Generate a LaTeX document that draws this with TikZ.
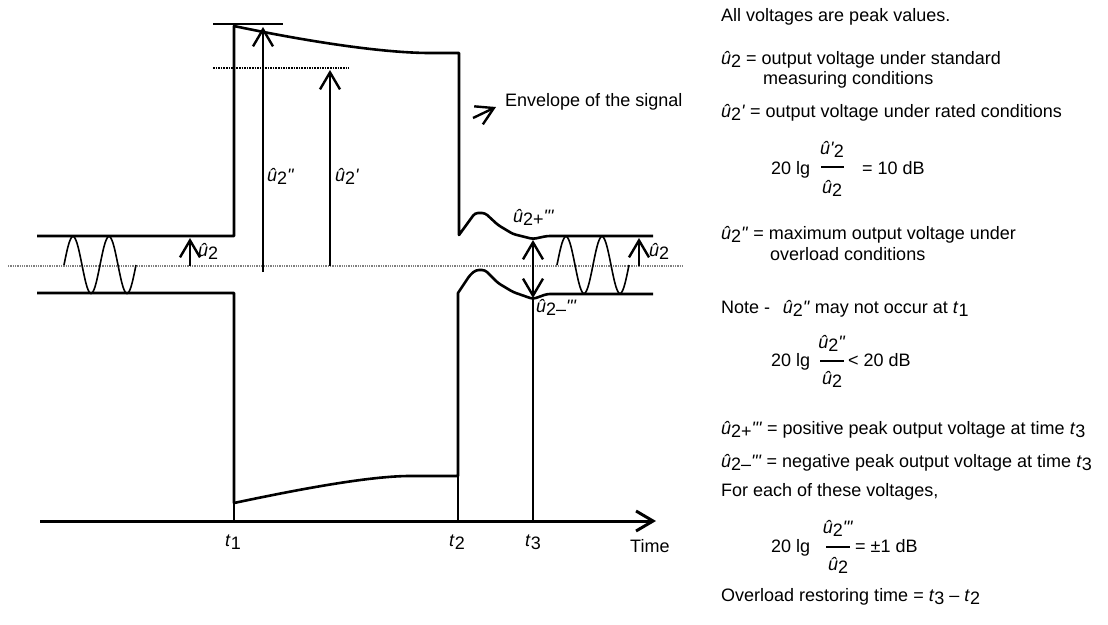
\documentclass[tikz,border=0pt]{standalone}
\usepackage{fontspec}
\newfontfamily\arialfont{Liberation Sans}
\usetikzlibrary{arrows.meta,positioning,calc}

\newcommand{\uhat}[2]{\textit{û}\raisebox{-0.3ex}{#1}\textit{#2}}
\newcommand{\tsub}[1]{\textit{t}\raisebox{-0.3ex}{#1}}

\begin{document}
\begin{tikzpicture}[x=1pt,y=-1pt,
  >={Straight Barb[length=17pt,width=20pt]},
  env/.style={line width=2.6pt,line join=round},
  wave/.style={line width=1.6pt},
  tick/.style={line width=1.6pt},
  arr/.style={line width=2.4pt,->},
  lbl/.style={font=\arialfont\fontsize{18}{21}\selectfont,inner sep=0pt,text height=13pt,text depth=4pt,anchor=west}]
\useasboundingbox (0,0) rectangle (1108,624);

% zero line and levels
\draw[gray,line width=1.3pt,densely dotted] (8,266) -- (683,266);
\draw[line width=2pt] (213,24) -- (283,24);
\draw[line width=1.6pt,densely dotted] (213,68) -- (349,68);

% envelope of the signal
\draw[env] (37,236) -- (234,236) -- (234,26) .. controls (300,40) and (380,53) .. (430,53) -- (459,53) -- (459,235)
  [rounded corners=3pt] -- (475,213) -- (485,213) -- (498,225) -- (513,234) -- (533,239) -- (547,236) -- (653,236);
\draw[env] (37,293) -- (234,293) -- (234,503) .. controls (300,489) and (370,476) .. (410,476) -- (458,476) -- (458,293)
  [rounded corners=3pt] -- (470,275) -- (476,270) -- (485,270) -- (498,283) -- (513,292) -- (533,299) -- (547,294) -- (653,294);

% the signal
\draw[wave] plot[domain=0:72,samples=73,smooth] ({64+\x},{265-28.5*sin(10*\x)});
\draw[wave] plot[domain=0:72,samples=73,smooth] ({557+\x},{265-28.5*sin(10*\x)});

% time axis
\coordinate (o) at (40,521);
\coordinate (tend) at (656,521);
\coordinate (t1) at (234,521);
\coordinate (t2) at (458,521);
\coordinate (t3) at (533,521);
\draw[line width=3pt,->] (o) -- (tend);
\draw[tick] (234,503) -- (t1);
\draw[tick] (458,476) -- (t2);
\draw[tick] (533,299) -- (t3);
\node[lbl,anchor=center] (lt1) at (233,542) {\tsub{1}};
\node[lbl,anchor=center] (lt2) at (457,542) {\tsub{2}};
\node[lbl,anchor=center] (lt3) at (533,542) {\tsub{3}};
\node[lbl] (ltime) at (630,548) {Time};

% voltage arrows
\coordinate (a0) at (190,266);   \coordinate (a1) at (190,238);
\coordinate (b0) at (263,272);   \coordinate (b1) at (263,27);
\coordinate (c0) at (330,266);   \coordinate (c1) at (330,70);
\coordinate (d0) at (639,266);   \coordinate (d1) at (639,238);
\coordinate (e0) at (533,240);   \coordinate (e1) at (533,298);
\draw[arr] (a0) -- (a1);
\draw[arr] (b0) -- (b1);
\draw[arr] (c0) -- (c1);
\draw[arr] (d0) -- (d1);
\draw[arr,<->] (e0) -- (e1);
\node[lbl] (u2a) at (198,252) {\uhat{2}{}};
\node[lbl] (u2b) at (649,252) {\uhat{2}{}};
\node[lbl] (u2max) at (267,177) {\uhat{2}{"}};
\node[lbl] (u2rat) at (335,177) {\uhat{2}{'}};
\node[lbl] (u2pos) at (513,218) {\uhat{2+}{"'}};
\node[lbl] (u2neg) at (536,308) {\uhat{2–}{"'}};

\coordinate (envtail) at (473,118);
\coordinate (envtip) at (496,107);
\draw[arr] (envtail) -- (envtip);
\node[lbl] (envtxt) at (505,102) {Envelope of the signal};

% notes
\node[lbl] (n1) at (721,17) {All voltages are peak values.};
\node[lbl] (n2) at (721,60) {\uhat{2}{} = output voltage under standard};
\node[lbl] (n3) at (763,80) {measuring conditions};
\node[lbl] (n4) at (721,113) {\uhat{2}{'} = output voltage under rated conditions};
\node[lbl] (f1) at (771,170) {20 lg};
\node[lbl,anchor=center] (f1n) at (832,150) {\textit{û'}\raisebox{-0.3ex}{2}};
\node[lbl,anchor=center] (f1d) at (832,189) {\uhat{2}{}};
\draw[line width=1.3pt] (821,167) -- (844,167);
\node[lbl] (f1r) at (862,170) {= 10 dB};
\node[lbl] (n5) at (721,235) {\uhat{2}{"} = maximum output voltage under};
\node[lbl] (n6) at (770,256) {overload conditions};
\node[lbl] (n7) at (721,309) {Note -\hspace{0.7em}\uhat{2}{"} may not occur at \tsub{1}};
\node[lbl] (f2) at (771,362) {20 lg};
\node[lbl,anchor=center] (f2n) at (832,344) {\uhat{2}{"}};
\node[lbl,anchor=center] (f2d) at (832,380) {\uhat{2}{}};
\draw[line width=1.3pt] (820,361) -- (844,361);
\node[lbl] (f2r) at (848,362) {< 20 dB};
\node[lbl] (n8) at (721,430) {\uhat{2+}{"'} = positive peak output voltage at time \tsub{3}};
\node[lbl] (n9) at (721,463) {\uhat{2–}{"'} = negative peak output voltage at time \tsub{3}};
\node[lbl] (n10) at (721,492) {For each of these voltages,};
\node[lbl] (f3) at (771,548) {20 lg};
\node[lbl,anchor=center] (f3n) at (838,529) {\uhat{2}{"'}};
\node[lbl,anchor=center] (f3d) at (838,566) {\uhat{2}{}};
\draw[line width=1.3pt] (826,547) -- (850,547);
\node[lbl] (f3r) at (855,548) {= ±1 dB};
\node[lbl] (n11) at (721,597) {Overload restoring time = \tsub{3} – \tsub{2}};
\end{tikzpicture}
\end{document}
